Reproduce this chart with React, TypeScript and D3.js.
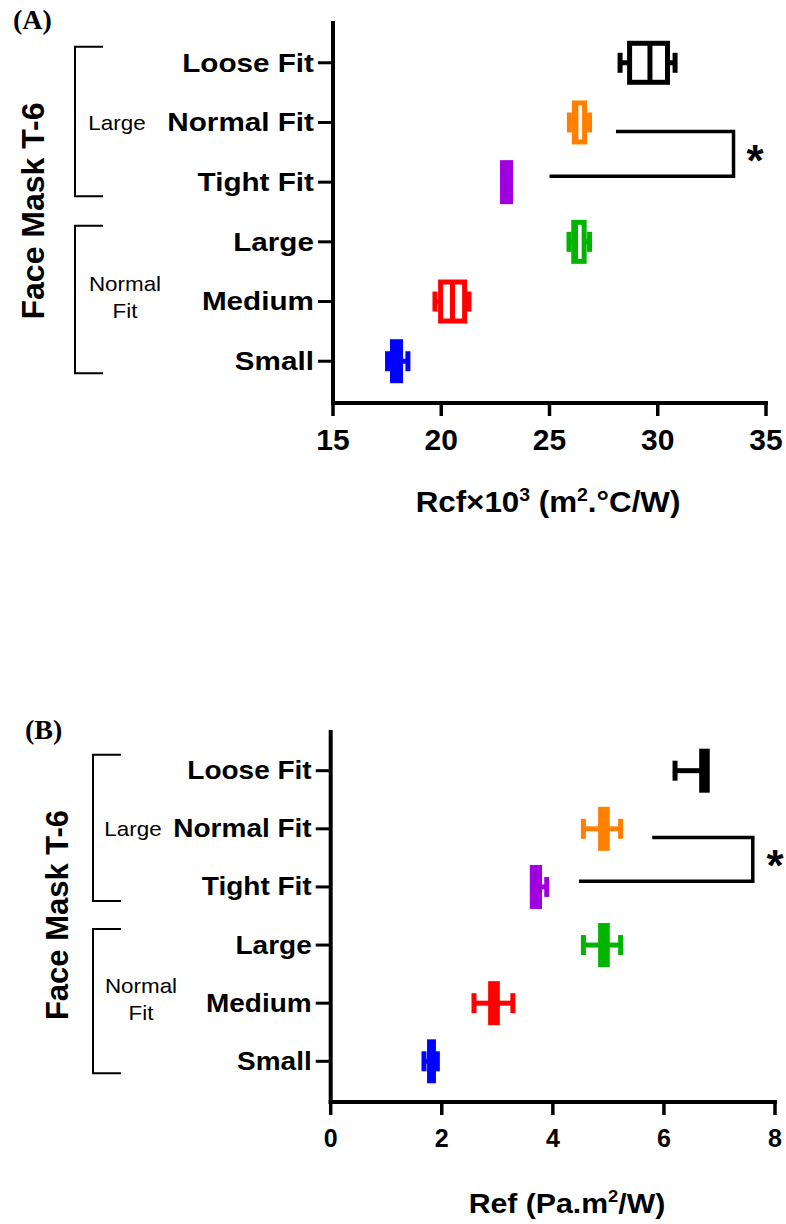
import React from 'react';
import * as d3 from 'd3';

// categories top to bottom, same order in both panels
const categories = ['Loose Fit', 'Normal Fit', 'Tight Fit', 'Large', 'Medium', 'Small'];
const boxColors = ['#000000', '#FF8000', '#A000E0', '#00B400', '#FF0000', '#0000FF'];

// panel A: Rcf x 10^3
const rcfMin = [28.26, 25.92, 22.83, 25.9, 19.71, 17.52];
const rcfQ1 = [28.7, 26.15, 22.83, 26.12, 19.97, 17.75];
const rcfMedian = [29.64, 26.22, 23.01, 26.2, 20.52, 17.95];
const rcfQ3 = [30.45, 26.62, 23.2, 26.6, 21.08, 18.12];
const rcfMax = [30.8, 26.85, 23.2, 26.85, 21.28, 18.46];
const rcfTicks = [15, 20, 25, 30, 35];
const rcfSig = [28.07, 25.0, 33.5, 34.5]; // upper start, lower start, bracket, star

// panel B: Ref
const refMin = [6.2, 4.55, 3.63, 4.55, 2.58, 1.68];
const refQ1 = [6.68, 4.86, 3.63, 4.86, 2.88, 1.78];
const refMedian = [6.73, 4.92, 3.7, 4.93, 2.94, 1.82];
const refQ3 = [6.78, 4.98, 3.76, 4.98, 3.0, 1.85];
const refMax = [6.78, 5.22, 3.89, 5.22, 3.28, 1.92];
const refTicks = [0, 2, 4, 6, 8];
const refSig = [5.79, 4.47, 7.6, 8.0];

const sigPair = ['Normal Fit', 'Tight Fit'];
const groupTop = { label: ['Large'], from: 'Loose Fit', to: 'Tight Fit', at: 'Normal Fit' };
const groupBottom = { label: ['Normal', 'Fit'], from: 'Large', to: 'Small', at: 'Medium' };

const SANS = '"Liberation Sans", Arial, Helvetica, sans-serif';

function SText({ x, y, sx = 1, size, weight = 'bold', anchor = 'middle', base = 'auto', children }: any) {
  return (
    <text
      transform={`translate(${x},${y}) scale(${sx},1)`}
      fontFamily={SANS}
      fontSize={size}
      fontWeight={weight}
      textAnchor={anchor}
      dominantBaseline={base}
      fill="#000"
    >
      {children}
    </text>
  );
}

function Panel(props: any) {
  const {
    letter, letterPos, xDomain, xRange, yRange, ticks, min, q1, med, q3, max, sig,
    xTitle, titlePos, tickSize, tickY, yTitlePos, yTitleSize, bracketX, groupLabelX, catSize,
  } = props;

  const x = d3.scaleLinear().domain(xDomain).range(xRange);
  const y = d3.scalePoint().domain(categories).range(yRange).padding(0.7);
  const step = y.step();
  const axisX = xRange[0];
  const axisY = yRange[1];
  const boxH = 39;
  const capH = 20;
  const sw = 5;

  const groups = [groupTop, groupBottom].map((g, gi) => {
    const top = (y(g.from) as number) - 16;
    const bot = (y(g.to) as number) + (gi === 0 ? 14 : 12);
    const cy = (y(g.at) as number) - (g.label.length > 1 ? 4 : 0);
    return (
      <g key={gi}>
        <path
          d={`M${bracketX + 28},${top}H${bracketX}V${bot}H${bracketX + 28}`}
          fill="none"
          stroke="#000"
          strokeWidth={2}
        />
        {g.label.map((t, i) => (
          <SText
            key={t}
            x={groupLabelX[gi]}
            y={cy + (i - (g.label.length - 1) / 2) * 27}
            sx={1.12}
            size={20}
            weight="normal"
            base="central"
          >
            {t}
          </SText>
        ))}
      </g>
    );
  });

  const yUp = (y(sigPair[0]) as number) + 0.15 * step;
  const yLo = (y(sigPair[1]) as number) - 0.1 * step;

  return (
    <g>
      <text x={letterPos[0]} y={letterPos[1]} fontFamily='"Liberation Serif", "Times New Roman", serif' fontWeight="bold" fontSize={28}>
        {letter}
      </text>

      <text
        transform={`translate(${yTitlePos[0]},${yTitlePos[1]}) rotate(-90)`}
        fontFamily={SANS}
        fontWeight="bold"
        fontSize={yTitleSize}
        textAnchor="middle"
        dominantBaseline="central"
      >
        Face Mask T-6
      </text>

      {groups}

      {/* axes */}
      <line x1={axisX} x2={axisX} y1={yRange[0]} y2={axisY + 2} stroke="#000" strokeWidth={4} />
      <line x1={axisX - 2} x2={xRange[1] + 2} y1={axisY} y2={axisY} stroke="#000" strokeWidth={4} />
      {ticks.map((t: number) => (
        <g key={t}>
          <line x1={x(t)} x2={x(t)} y1={axisY} y2={axisY + 13} stroke="#000" strokeWidth={3.5} />
          <SText x={x(t)} y={tickY} size={tickSize}>{t}</SText>
        </g>
      ))}
      {categories.map((c) => (
        <g key={c}>
          <line x1={axisX - 15} x2={axisX} y1={y(c)} y2={y(c)} stroke="#000" strokeWidth={3} />
          <SText x={axisX - 19} y={y(c) as number} sx={1.12} size={catSize} anchor="end" base="central">
            {c}
          </SText>
        </g>
      ))}

      <SText x={titlePos[0]} y={titlePos[1]} sx={1.08} size={titlePos[2]}>
        {xTitle}
      </SText>

      {/* boxes */}
      {categories.map((c, i) => {
        const cy = y(c) as number;
        const col = boxColors[i];
        return (
          <g key={c} stroke={col} strokeWidth={sw} fill="none">
            {min[i] < q1[i] && (
              <>
                <line x1={x(min[i])} x2={x(q1[i])} y1={cy} y2={cy} />
                <line x1={x(min[i])} x2={x(min[i])} y1={cy - capH / 2} y2={cy + capH / 2} />
              </>
            )}
            {max[i] > q3[i] && (
              <>
                <line x1={x(q3[i])} x2={x(max[i])} y1={cy} y2={cy} />
                <line x1={x(max[i])} x2={x(max[i])} y1={cy - capH / 2} y2={cy + capH / 2} />
              </>
            )}
            <rect x={x(q1[i])} y={cy - boxH / 2} width={x(q3[i]) - x(q1[i])} height={boxH} fill="#fff" />
            <line x1={x(med[i])} x2={x(med[i])} y1={cy - boxH / 2} y2={cy + boxH / 2} />
          </g>
        );
      })}

      {/* significance bracket */}
      <path
        d={`M${x(sig[0])},${yUp}H${x(sig[2])}V${yLo}H${x(sig[1])}`}
        fill="none"
        stroke="#000"
        strokeWidth={3.5}
      />
      <SText x={x(sig[3])} y={(yUp + yLo) / 2 + 22} size={44}>*</SText>
    </g>
  );
}

export default function App() {
  return (
    <svg
      width={786}
      height={1224}
      style={{ position: 'absolute', left: 0, top: 0, background: '#fff' }}
    >
      <Panel
        letter="(A)"
        letterPos={[13, 29]}
        xDomain={[15, 35]}
        xRange={[333, 766]}
        yRange={[21, 403]}
        ticks={rcfTicks}
        min={rcfMin}
        q1={rcfQ1}
        med={rcfMedian}
        q3={rcfQ3}
        max={rcfMax}
        sig={rcfSig}
        xTitle={
          <>
            Rcf×10<tspan fontSize={18} dy={-11}>3</tspan>
            <tspan dy={11}> (m</tspan>
            <tspan fontSize={18} dy={-11}>2</tspan>
            <tspan dy={11}>.°C/W)</tspan>
          </>
        }
        titlePos={[548, 512, 29]}
        tickSize={30}
        tickY={450}
        yTitlePos={[33, 211]}
        yTitleSize={32}
        bracketX={75}
        groupLabelX={[117, 125]}
        catSize={26.5}
      />
      <Panel
        letter="(B)"
        letterPos={[25, 739]}
        xDomain={[0, 8]}
        xRange={[330.7, 775]}
        yRange={[730, 1102]}
        ticks={refTicks}
        min={refMin}
        q1={refQ1}
        med={refMedian}
        q3={refQ3}
        max={refMax}
        sig={refSig}
        xTitle={
          <>
            Ref (Pa.m<tspan fontSize={17} dy={-11}>2</tspan>
            <tspan dy={11}>/W)</tspan>
          </>
        }
        titlePos={[567, 1213, 28]}
        tickSize={25}
        tickY={1147}
        yTitlePos={[57, 915]}
        yTitleSize={31}
        bracketX={93}
        groupLabelX={[133, 141]}
        catSize={25}
      />
    </svg>
  );
}
